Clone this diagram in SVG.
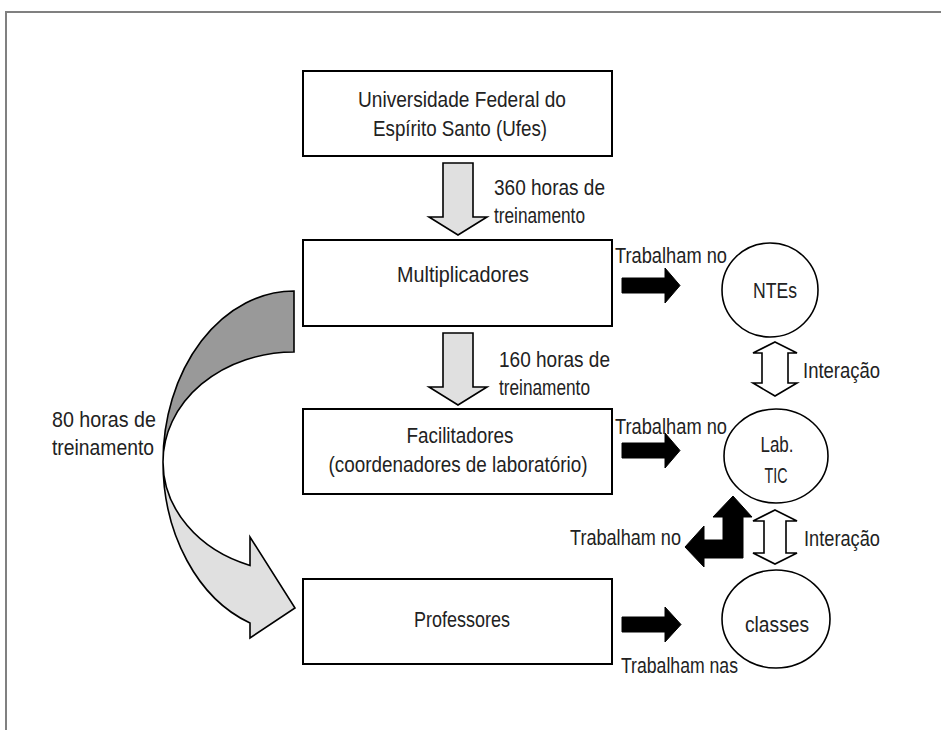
<svg xmlns="http://www.w3.org/2000/svg" width="941" height="730" viewBox="0 0 941 730">
<style>
text{font-family:"Liberation Sans",Arial,sans-serif;font-size:22px;fill:#222;}
.c{text-anchor:middle;}
.box{fill:#fff;stroke:#000;stroke-width:2;}
.node{fill:#fff;stroke:#000;stroke-width:1.6;}
.gray{fill:#e0e0e0;stroke:#000;stroke-width:1.6;stroke-linejoin:miter;}
.blk{fill:#000;stroke:#000;stroke-width:1;}
.dbl{fill:#fff;stroke:#000;stroke-width:1.6;}
</style>
<rect width="941" height="730" fill="#fff"/>
<path d="M5,12 H941 M6,12 V730" fill="none" stroke="#808080" stroke-width="2"/>

<g id="ufes">
<rect class="box" x="303" y="71" width="309" height="85"/>
<text class="c" x="462" y="107" textLength="208" lengthAdjust="spacingAndGlyphs">Universidade Federal do</text>
<text class="c" x="460" y="136" textLength="174" lengthAdjust="spacingAndGlyphs">Espírito Santo (Ufes)</text>
</g>
<g id="multiplicadores">
<rect class="box" x="303" y="240" width="309" height="86"/>
<text class="c" x="463" y="282" textLength="132" lengthAdjust="spacingAndGlyphs">Multiplicadores</text>
</g>
<g id="facilitadores">
<rect class="box" x="303" y="409" width="309" height="85"/>
<text class="c" x="460" y="443" textLength="107" lengthAdjust="spacingAndGlyphs">Facilitadores</text>
<text class="c" x="458" y="472" textLength="259" lengthAdjust="spacingAndGlyphs">(coordenadores de laboratório)</text>
</g>
<g id="professores">
<rect class="box" x="303" y="579" width="309" height="85"/>
<text class="c" x="462" y="627" textLength="96" lengthAdjust="spacingAndGlyphs">Professores</text>
</g>
<g id="ntes">
<ellipse class="node" cx="770" cy="290" rx="48" ry="47"/>
<text class="c" x="775" y="298" textLength="44" lengthAdjust="spacingAndGlyphs">NTEs</text>
</g>
<g id="labtic">
<ellipse class="node" cx="776" cy="456" rx="52" ry="47"/>
<text class="c" x="777" y="452" textLength="33" lengthAdjust="spacingAndGlyphs">Lab.</text>
<text class="c" x="776" y="483" textLength="23" lengthAdjust="spacingAndGlyphs">TIC</text>
</g>
<g id="classes">
<ellipse class="node" cx="776" cy="619" rx="54" ry="49"/>
<text class="c" x="777" y="632" textLength="64" lengthAdjust="spacingAndGlyphs">classes</text>
</g>

<g id="connectors">
<path class="gray" d="M443,163 H473 V217 H487 L458,235 L429,217 H443 Z"/>
<path class="gray" d="M443,333 H473 V387 H487 L458,405 L429,387 H443 Z"/>
<path d="M294,291 A131,171 0 0 0 163,462 A131,110 0 0 1 294,352 Z" fill="#999" stroke="#000" stroke-width="1.6"/>
<path class="gray" d="M163,462 A131,171 0 0 0 250,623 L250,638 L295,608 L250,537 L250,565.4 A131,110 0 0 1 163,462 Z"/>
<path class="blk" d="M622,278 H665 V268 L680,285.5 L665,303 V293 H622 Z"/>
<path class="blk" d="M622,443 H665 V433 L680,450.5 L665,468 V458 H622 Z"/>
<path class="blk" d="M622,617 H665 V607 L681,624.5 L665,642 V632 H622 Z"/>
<path class="blk" d="M733,496 L752,517 L743,517 L743,558 L704,558 L704,567 L685,547 L704,526 L704,540 L723,540 L723,517 L713,517 Z"/>
<path class="dbl" d="M775,342 L797,353 H788 V383 H797 L775,396 L753,383 H762 V353 H753 Z"/>
<path class="dbl" d="M775,510 L797,521 H786 V553 H797 L775,564 L753,553 H764 V521 H753 Z"/>
<text x="494" y="195" textLength="111" lengthAdjust="spacingAndGlyphs">360 horas de</text>
<text x="494" y="223" textLength="91" lengthAdjust="spacingAndGlyphs">treinamento</text>
<text x="499" y="367" textLength="111" lengthAdjust="spacingAndGlyphs">160 horas de</text>
<text x="499" y="395" textLength="91" lengthAdjust="spacingAndGlyphs">treinamento</text>
<text x="52" y="427" textLength="104" lengthAdjust="spacingAndGlyphs">80 horas de</text>
<text x="52" y="455" textLength="102" lengthAdjust="spacingAndGlyphs">treinamento</text>
<text x="615" y="263" textLength="112" lengthAdjust="spacingAndGlyphs">Trabalham no</text>
<text x="615" y="434" textLength="112" lengthAdjust="spacingAndGlyphs">Trabalham no</text>
<text x="570" y="545" textLength="111" lengthAdjust="spacingAndGlyphs">Trabalham no</text>
<text x="621" y="673" textLength="117" lengthAdjust="spacingAndGlyphs">Trabalham nas</text>
<text x="803" y="378" textLength="77" lengthAdjust="spacingAndGlyphs">Interação</text>
<text x="804" y="546" textLength="76" lengthAdjust="spacingAndGlyphs">Interação</text>
</g>
</svg>
